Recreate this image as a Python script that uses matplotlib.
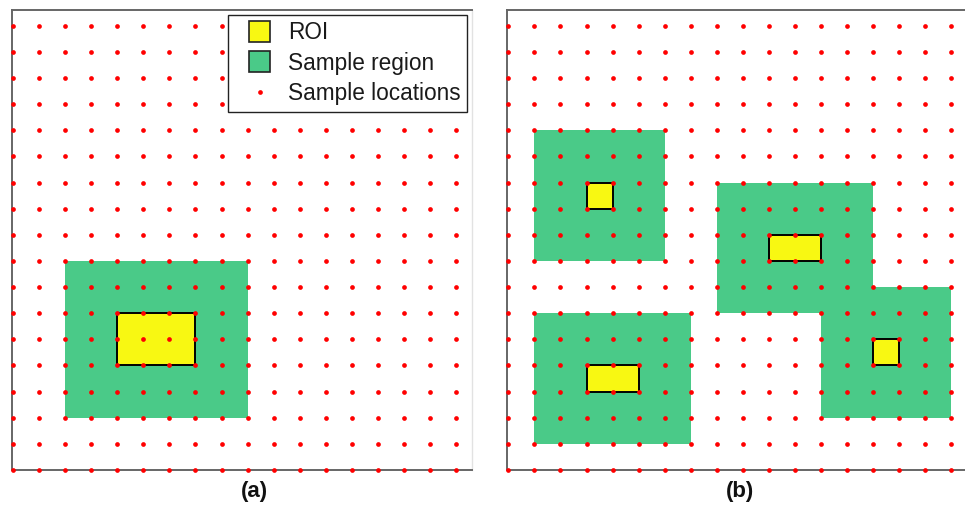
import matplotlib
matplotlib.use("Agg")
import matplotlib.pyplot as plt
from matplotlib.patches import Rectangle, Patch
from matplotlib.lines import Line2D
from matplotlib.legend_handler import HandlerPatch

plt.rcParams['font.family'] = ['Liberation Sans', 'DejaVu Sans']

# ---- data (grid units) ----
sample_cols = [0, 1, 2, 3, 4, 5, 6, 7, 8, 9, 10, 11, 12, 13, 14, 15, 16, 17]
sample_rows = [0, 1, 2, 3, 4, 5, 6, 7, 8, 9, 10, 11, 12, 13, 14, 15, 16, 17]

# (x, y, width, height)
a_regions = [(2, 2, 7, 6)]
a_rois = [(4, 4, 3, 2)]
b_regions = [(1, 8, 5, 5), (1, 1, 6, 5), (8, 6, 6, 5), (12, 2, 5, 5)]
b_rois = [(3, 10, 1, 1), (3, 3, 2, 1), (10, 8, 2, 1), (14, 4, 1, 1)]

panel_labels = ['(a)', '(b)']
legend_labels = ['ROI', 'Sample region', 'Sample locations']

GREEN = '#4aca88'
YELLOW = '#f8f812'
RED = '#ff0000'

W, H = 965, 507
fig = plt.figure(figsize=(W / 100, H / 100), dpi=100)


def make_panel(left_px, regions, rois):
    ax = fig.add_axes([left_px / W, 37 / H, 459.7 / W, 460 / H])
    ax.set_xlim(-0.04, 17.6)
    ax.set_ylim(0, 17.6)
    ax.set_xticks([])
    ax.set_yticks([])
    for (x, y, w, h) in regions:
        ax.add_patch(Rectangle((x, y), w, h, facecolor=GREEN, edgecolor='none', zorder=1))
    for (x, y, w, h) in rois:
        ax.add_patch(Rectangle((x, y), w, h, facecolor=YELLOW, edgecolor='black',
                               linewidth=1.4, zorder=2))
    xs = [c for r in sample_rows for c in sample_cols]
    ys = [r for r in sample_rows for c in sample_cols]
    ax.plot(xs, ys, linestyle='none', marker='o', markersize=3.4, color=RED,
            markeredgewidth=0, zorder=3, clip_on=False)
    for s in ['left', 'top', 'bottom']:
        ax.spines[s].set_color('#666666')
        ax.spines[s].set_linewidth(1.4)
    ax.spines['right'].set_color('#e2e2e2')
    ax.spines['right'].set_linewidth(1.0)
    return ax


ax_a = make_panel(12, a_regions, a_rois)
ax_b = make_panel(507.3, b_regions, b_rois)


def square_patch(legend, orig_handle, xdescent, ydescent, width, height, fontsize):
    s = 21 * 72 / 100
    cx = -xdescent + width / 2
    cy = -ydescent + height / 2
    return Rectangle((cx - s / 2, cy - s / 2), s, s)


handles = [
    Patch(facecolor=YELLOW, edgecolor='#222222', linewidth=1.2),
    Patch(facecolor=GREEN, edgecolor='#222222', linewidth=1.2),
    Line2D([], [], linestyle='none', marker='o', markersize=3.4, color=RED, markeredgewidth=0),
]
leg = ax_a.legend(handles, legend_labels, loc='upper right',
                  bbox_to_anchor=(467 / W, 1 - 15 / H), bbox_transform=fig.transFigure,
                  borderaxespad=0, fontsize=16.3, frameon=True, fancybox=False,
                  framealpha=1, edgecolor='#222222', borderpad=0.28,
                  handlelength=2.19, handletextpad=0.16, labelspacing=0.33,
                  handler_map={Patch: HandlerPatch(patch_func=square_patch)})
leg.get_frame().set_linewidth(1.0)
for t in leg.get_texts():
    t.set_color('#1a1a1a')

fig.text(254 / W, 1 - 492 / H, panel_labels[0], ha='center', va='center',
         fontweight='bold', fontsize=16, color='#111111')
fig.text(740 / W, 1 - 492 / H, panel_labels[1], ha='center', va='center',
         fontweight='bold', fontsize=16, color='#111111')

fig.savefig('out.png', dpi=100)
